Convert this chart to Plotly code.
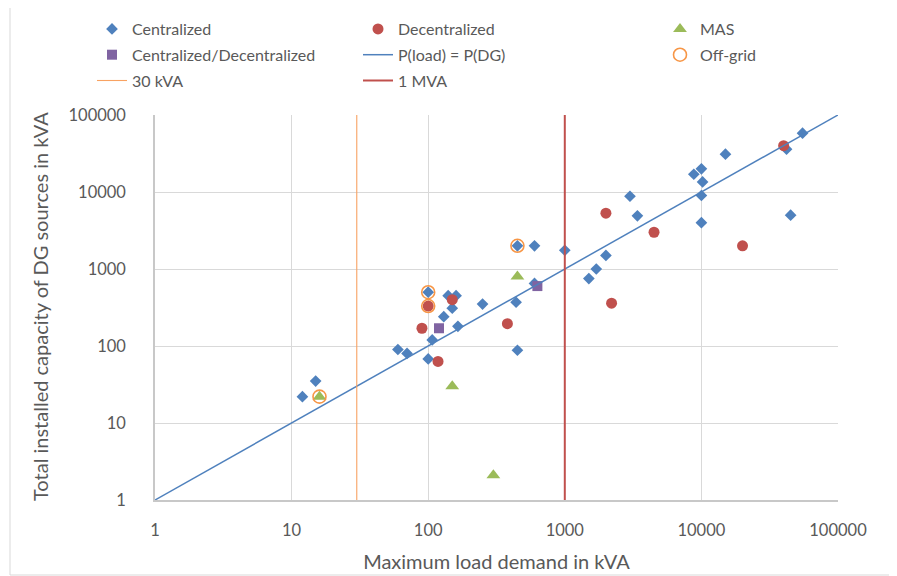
import plotly.graph_objects as go

# ---- data (kVA) ----
cent_load = [12, 15, 60, 70, 100, 107, 130, 100, 140, 160, 150, 165, 250, 440, 450, 450, 600, 600,
             1000, 1500, 1700, 2000, 3000, 3400, 8800, 10000, 10200, 10000, 10000, 15000, 42000, 55000, 45000]
cent_dg = [22, 35, 90, 80, 68, 120, 240, 500, 450, 450, 310, 180, 350, 370, 88, 2000, 2000, 650,
           1750, 750, 1000, 1500, 8800, 4900, 17000, 20000, 13500, 9000, 4000, 31000, 36000, 58000, 5000]

dec_load = [90, 118, 100, 150, 380, 2000, 2200, 4500, 20000, 40000]
dec_dg = [170, 63, 330, 400, 195, 5300, 360, 3000, 2000, 40000]

mas_load = [16, 150, 300, 450]
mas_dg = [22, 30, 2.1, 800]

cd_load = [120, 630]
cd_dg = [170, 600]

off_load = [16, 100, 100, 450]
off_dg = [22, 500, 330, 2000]

line_eq = [1, 100000]
line_30_x = [30, 30]
line_1m_x = [1000, 1000]
vline_y = [1, 100000]

tick_vals = [1, 10, 100, 1000, 10000, 100000]
tick_text = ["1", "10", "100", "1000", "10000", "100000"]

x_title = "Maximum load demand in kVA"
y_title = "Total installed capacity of DG sources in kVA"

FONT = "Lato"
GRAY = "#595959"

fig = go.Figure()

fig.add_trace(go.Scatter(x=cent_load, y=cent_dg, mode="markers", name="Centralized",
                         marker=dict(symbol="diamond", size=9, color="#4F81BD"),
                         legend="legend", legendgroup="a"))
fig.add_trace(go.Scatter(x=dec_load, y=dec_dg, mode="markers", name="Decentralized",
                         marker=dict(symbol="circle", size=11, color="#C0504D"),
                         legend="legend2", legendgroup="b"))
fig.add_trace(go.Scatter(x=mas_load, y=mas_dg, mode="markers", name="MAS",
                         marker=dict(symbol="triangle-up", size=12, color="#9BBB59"),
                         legend="legend3", legendgroup="c"))
fig.add_trace(go.Scatter(x=cd_load, y=cd_dg, mode="markers", name="Centralized/Decentralized",
                         marker=dict(symbol="square", size=10, color="#8064A2"),
                         legend="legend", legendgroup="d"))
fig.add_trace(go.Scatter(x=line_eq, y=line_eq, mode="lines", name="P(load) = P(DG)",
                         line=dict(color="#4F81BD", width=1.5),
                         legend="legend2", legendgroup="e"))
fig.add_trace(go.Scatter(x=off_load, y=off_dg, mode="markers", name="Off-grid",
                         marker=dict(symbol="circle-open", size=13, color="#F79646",
                                     line=dict(width=1.6, color="#F79646")),
                         legend="legend3", legendgroup="f"))
fig.add_trace(go.Scatter(x=line_30_x, y=vline_y, mode="lines", name="30 kVA",
                         line=dict(color="#F8A262", width=1.1),
                         legend="legend", legendgroup="g"))
fig.add_trace(go.Scatter(x=line_1m_x, y=vline_y, mode="lines", name="1 MVA",
                         line=dict(color="#C0504D", width=2),
                         legend="legend2", legendgroup="h"))

W, H = 897, 576
# page is rendered with an 8px body offset; plot area at page (155..838, 115..500)
OFF = 8
L, T = 155 - OFF, 115 - OFF
R = W - (838 - OFF)
B = H - (500 - OFF)
PW, PH = 838 - 155, 500 - 115

leg_common = dict(xref="container", yref="container", xanchor="left", yanchor="top",
                  orientation="v", bgcolor="rgba(0,0,0,0)", borderwidth=0,
                  font=dict(family=FONT, size=16, color=GRAY), tracegroupgap=2)
LEG_TOP = 1 - 4 / H

fig.update_layout(
    width=W, height=H,
    margin=dict(l=L, r=R, t=T, b=B, autoexpand=False),
    paper_bgcolor="white", plot_bgcolor="white",
    font=dict(family=FONT, color=GRAY),
    legend=dict(x=(132 - OFF - 40) / W, y=LEG_TOP, **leg_common),
    legend2=dict(x=(398 - OFF - 40) / W, y=LEG_TOP, **leg_common),
    legend3=dict(x=(700 - OFF - 40) / W, y=LEG_TOP, **leg_common),
    xaxis=dict(type="log", range=[0, 5], tickvals=tick_vals, ticktext=tick_text,
               showgrid=True, gridcolor="#D9D9D9", gridwidth=1,
               showline=True, linecolor="#C8C8C8", linewidth=2,
               zeroline=False, ticks="outside", ticklen=14, tickcolor="rgba(0,0,0,0)",
               tickangle=0, automargin=True,
               tickfont=dict(family=FONT, size=16.5, color=GRAY),
               title=dict(text=x_title,
                          font=dict(family=FONT, size=20, color=GRAY), standoff=16)),
    yaxis=dict(type="log", range=[0, 5], tickvals=tick_vals, ticktext=tick_text,
               showgrid=True, gridcolor="#D9D9D9", gridwidth=1,
               showline=True, linecolor="#C8C8C8", linewidth=1.5,
               zeroline=False, ticks="outside", ticklen=24, tickcolor="rgba(0,0,0,0)",
               automargin=False,
               tickfont=dict(family=FONT, size=16.5, color=GRAY)),
    annotations=[dict(text=y_title, textangle=-90, xref="paper", yref="paper",
                      x=(40 - 155) / PW, y=(500 - 307) / PH, xanchor="center", yanchor="middle",
                      showarrow=False, font=dict(family=FONT, size=20, color=GRAY))],
    shapes=[
        dict(type="line", xref="paper", yref="paper",
             x0=(10 - 155) / PW, x1=(10 - 155) / PW,
             y0=(500 - 575) / PH, y1=(500 - 0) / PH,
             line=dict(color="#D9D9D9", width=1), layer="below"),
        dict(type="line", xref="paper", yref="paper",
             x0=(10 - 155) / PW, x1=(897 - 155) / PW,
             y0=(500 - 575) / PH, y1=(500 - 575) / PH,
             line=dict(color="#D9D9D9", width=1), layer="below"),
    ],
)

fig.write_html("out.html")
